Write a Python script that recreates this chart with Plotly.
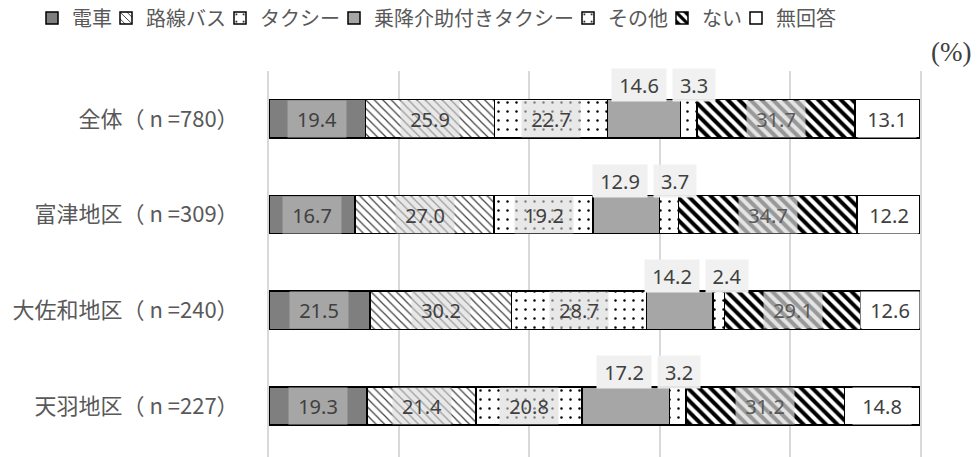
import plotly.graph_objects as go

categories = ["全体（ n =780）", "富津地区（ n =309）", "大佐和地区（ n =240）", "天羽地区（ n =227）"]
series_names = ["電車", "路線バス", "タクシー", "乗降介助付きタクシー", "その他", "ない", "無回答"]
densha = [19.4, 16.7, 21.5, 19.3]
rosen_bus = [25.9, 27.0, 30.2, 21.4]
taxi = [22.7, 19.2, 28.7, 20.8]
kaijo_taxi = [14.6, 12.9, 14.2, 17.2]
sonota = [3.3, 3.7, 2.4, 3.2]
nai = [31.7, 34.7, 29.1, 31.2]
mukaitou = [13.1, 12.2, 12.6, 14.8]

values = [densha, rosen_bus, taxi, kaijo_taxi, sonota, nai, mukaitou]

W, H = 977, 457
ML, MR, MT, MB = 269, 57, 71, 0
PW = W - ML - MR
PH = H - MT - MB

dots = dict(shape=".", fgcolor="black", bgcolor="white", size=9, solidity=0.06, fillmode="replace")
styles = [
    dict(color="#7f7f7f"),
    dict(color="white", pattern=dict(shape="\\", fgcolor="#404040", bgcolor="white", size=6, solidity=0.2, fillmode="replace")),
    dict(color="white", pattern=dots),
    dict(color="#a6a6a6"),
    dict(color="white", pattern=dots),
    dict(color="white", pattern=dict(shape="\\", fgcolor="black", bgcolor="white", size=8, solidity=0.5, fillmode="replace")),
    dict(color="white"),
]
label_bg = ["#a6a6a6", "rgba(217,217,217,0.6)", "rgba(217,217,217,0.6)", "#f0f0f0",
            "rgba(240,240,240,0.95)", "rgba(217,217,217,0.7)", "white"]
label_fc = ["#404040", "#404040", "#404040", "#404040", "#404040", "#595959", "#404040"]
above = [False, False, False, True, True, False, False]

LEG_FONT = 20
fig = go.Figure()
# one legend per series so the compact spacing of the original can be kept
text_left = 72
legends = {}
for i, (name, vals, st) in enumerate(zip(series_names, values, styles)):
    m = dict(st)
    m["line"] = dict(color="black", width=1.5)
    key = "legend" if i == 0 else f"legend{i + 1}"
    fig.add_trace(go.Bar(y=categories, x=vals, name=name, orientation="h", marker=m,
                         hoverinfo="skip", legend=key))
    item_start = text_left - 40
    legends[key] = dict(orientation="h", xref="container", yref="container",
                        x=item_start / W, y=1 - 18 / H, xanchor="left", yanchor="middle",
                        font=dict(size=LEG_FONT, family="Noto Sans CJK JP", color="#595959"),
                        itemwidth=30, bgcolor="rgba(0,0,0,0)")
    text_left = text_left + len(name) * LEG_FONT + 34

annotations = []
px_per_unit = PW / 100.0
for ci, cat in enumerate(categories):
    total = sum(v[ci] for v in values)
    cum = 0.0
    centers = []
    for si, vals in enumerate(values):
        v = vals[ci]
        centers.append((cum + v / 2) / total * 100)
        cum += v
    # separate the two small labels placed above the bar if they collide
    shift = [0.0] * len(values)
    gap_px = (centers[4] - centers[3]) * px_per_unit
    need = 55
    if gap_px < need:
        d = (need - gap_px) / 2
        shift[3] = -d
        shift[4] = d
    for si, vals in enumerate(values):
        v = vals[ci]
        txt = f"{v:.1f}"
        if above[si]:
            annotations.append(dict(x=centers[si], y=cat, xref="x", yref="y", text=txt,
                                    showarrow=False, yshift=34, xshift=shift[si], bgcolor=label_bg[si],
                                    width=12 * len(txt) + 4, height=30,
                                    font=dict(family="Noto Sans", size=20, color=label_fc[si])))
        else:
            annotations.append(dict(x=centers[si], y=cat, xref="x", yref="y", text=txt,
                                    showarrow=False, bgcolor=label_bg[si],
                                    width=56, height=34,
                                    font=dict(family="Noto Sans", size=20, color=label_fc[si])))

annotations.append(dict(x=(951 - ML) / PW, y=(H - MB - 52) / PH, xref="paper", yref="paper", text="(%)",
                        showarrow=False, xanchor="center", yanchor="middle",
                        font=dict(family="Liberation Serif", size=27, color="#404040")))

fig.update_layout(
    width=W, height=H,
    margin=dict(l=ML, r=MR, t=MT, b=MB),
    barmode="stack", barnorm="percent", bargap=0.6,
    plot_bgcolor="white", paper_bgcolor="white",
    font=dict(family="Noto Sans CJK JP", color="#595959"),
    showlegend=True,
    xaxis=dict(range=[0, 100], dtick=20, showgrid=True, gridcolor="#d9d9d9", gridwidth=2,
               showticklabels=False, zeroline=False, showline=False),
    yaxis=dict(autorange="reversed", showgrid=False, ticklabelstandoff=24,
               showline=True, mirror=True, linecolor="#d9d9d9", linewidth=2,
               tickfont=dict(size=22, family="Noto Sans CJK JP", color="#595959")),
    annotations=annotations,
    **legends,
)

fig.write_html("out.html")
